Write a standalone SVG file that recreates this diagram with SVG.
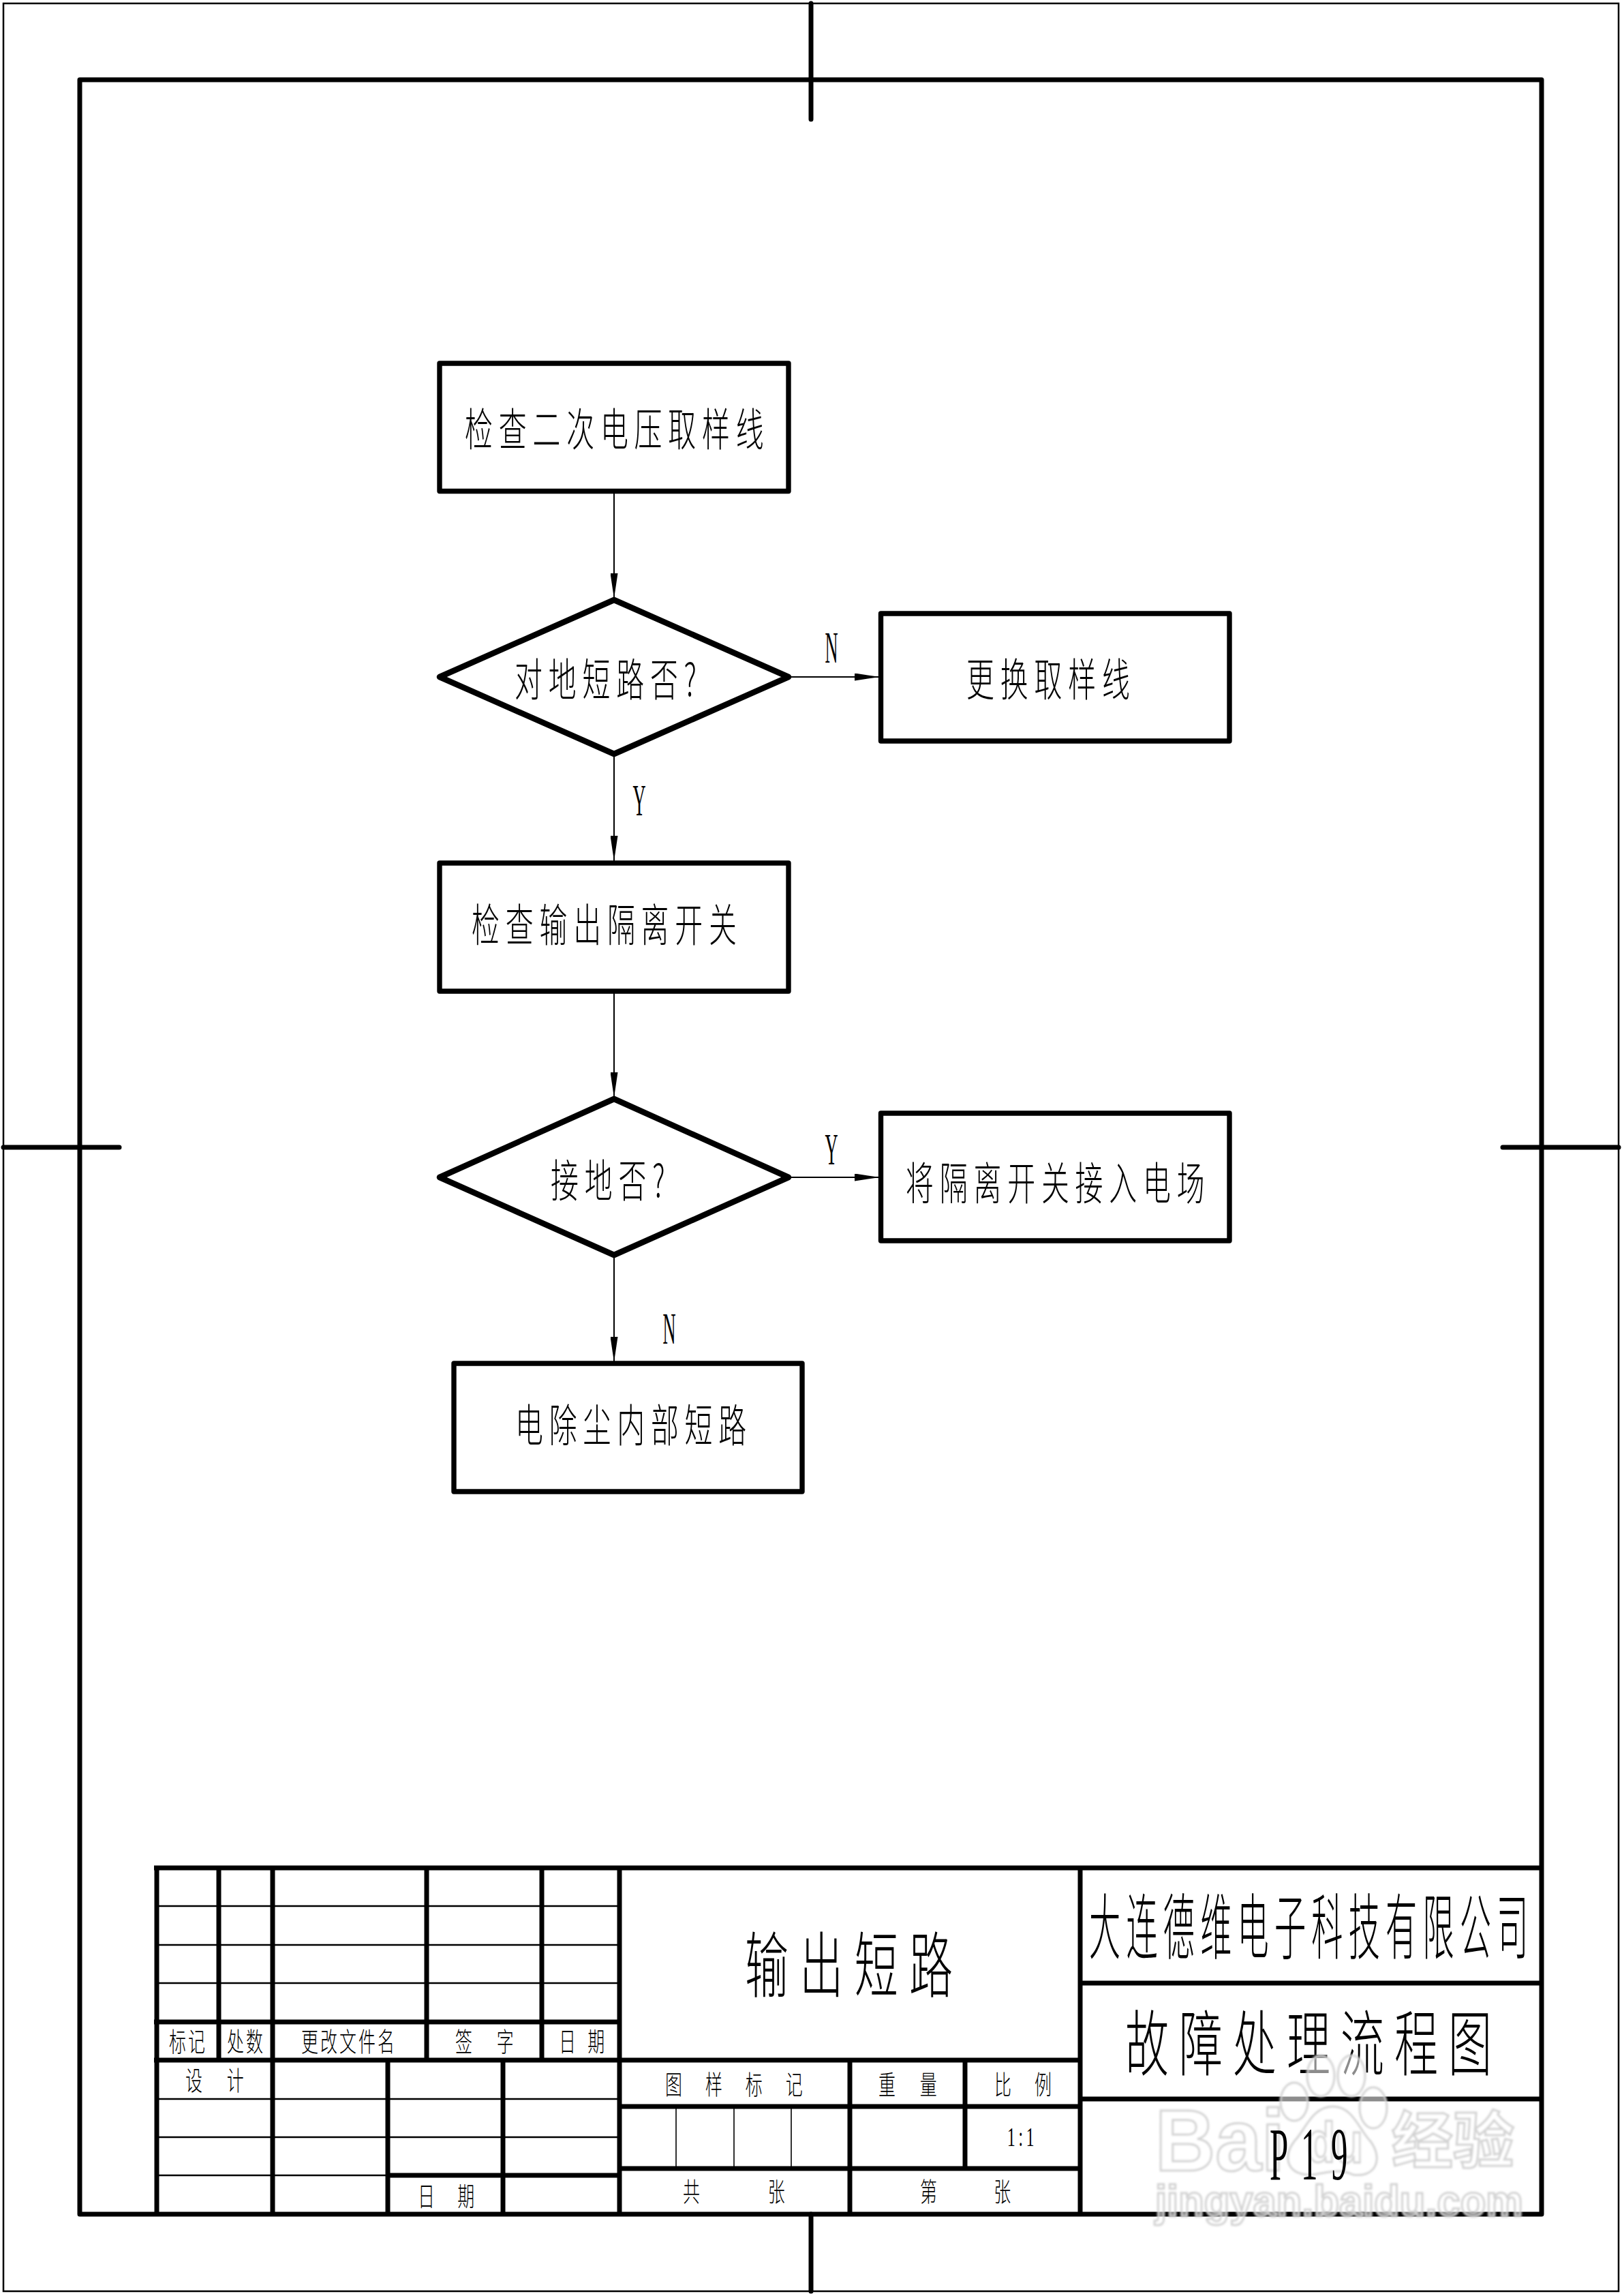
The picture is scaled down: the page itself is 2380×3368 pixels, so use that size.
<svg xmlns="http://www.w3.org/2000/svg" width="2380" height="3368" viewBox="0 0 2380 3368">
<style>
text{fill:#000;font-family:"Noto Sans CJK SC","Liberation Sans",sans-serif;font-weight:300}
.m{font-size:66px;letter-spacing:14.2px}
.s{font-size:39px;letter-spacing:4.75px}
.sp{font-size:39px}
.l{font-size:105px}
.lat{font-family:"Liberation Serif",serif;font-size:66px;text-anchor:middle}
.box{fill:#fff;stroke:#000;stroke-width:7.4;stroke-linejoin:round}
.dia{fill:#fff;stroke:#000;stroke-width:8.5;stroke-linejoin:round}
.thick{fill:none;stroke:#000;stroke-width:7;stroke-linecap:round}
.thin{fill:none;stroke:#000;stroke-width:2.4}
.hair{fill:none;stroke:#000;stroke-width:1.6}
.con{fill:none;stroke:#000;stroke-width:2;marker-end:url(#arr)}
.wm{fill:#fff;fill-opacity:.55;stroke:#d2d2d2;stroke-width:3}
.wmt{font-family:"Liberation Sans",sans-serif;font-weight:700}
</style>
<defs>
<marker id="arr" markerUnits="userSpaceOnUse" markerWidth="37" markerHeight="11" refX="37" refY="5.5" orient="auto"><path d="M0 0L37 5.5L0 11Z" fill="#000"/></marker>
<filter id="blur" x="-5%" y="-5%" width="110%" height="110%"><feGaussianBlur stdDeviation="1.8"/></filter>
</defs>
<rect width="2380" height="3368" fill="#fff"/>
<g id="frame">
<rect x="5" y="5" width="2370" height="3356" class="thin" style="stroke-width:2.5"/>
<rect x="117" y="117" width="2145" height="3131" class="thick" style="stroke-linejoin:round"/>
<path class="thick" d="M1190 5V175M1190 3248V3361M5 1683H175M2205 1683H2375"/>
</g>
<g id="connectors">
<path class="con" d="M901 720V878"/>
<path class="con" d="M901 1106V1263"/>
<path class="con" d="M901 1453V1610"/>
<path class="con" d="M901 1841V1998"/>
<path class="con" d="M1157 993H1291"/>
<path class="con" d="M1157 1727H1291"/>
</g>
<g id="n1"><rect class="box" x="645" y="533" width="512" height="187.500"/><text class="m" transform="translate(682,654) scale(.62,1)">检查二次电压取样线</text></g>
<g id="n2"><polygon class="dia" points="901,880 1157,993 901,1106 645,993"/><text class="m" transform="translate(755,1021) scale(.62,1)">对地短路否?</text></g>
<g id="n3"><rect class="box" x="1292.500" y="900" width="511.500" height="187"/><text class="m" transform="translate(1418,1021) scale(.62,1)">更换取样线</text></g>
<g id="n4"><rect class="box" x="645" y="1266" width="512" height="188"/><text class="m" transform="translate(692,1381) scale(.62,1)">检查输出隔离开关</text></g>
<g id="n5"><polygon class="dia" points="901,1612 1157,1727 901,1841 645,1727"/><text class="m" transform="translate(808,1756) scale(.62,1)">接地否?</text></g>
<g id="n6"><rect class="box" x="1292.500" y="1633" width="511.500" height="187"/><text class="m" transform="translate(1329,1760) scale(.62,1)">将隔离开关接入电场</text></g>
<g id="n7"><rect class="box" x="666" y="2000" width="511" height="188"/><text class="m" transform="translate(756,2115) scale(.62,1)">电除尘内部短路</text></g>
<g id="edge-labels">
<text class="lat" transform="translate(1220,972) scale(.4,1)">N</text>
<text class="lat" transform="translate(938,1196) scale(.4,1)">Y</text>
<text class="lat" transform="translate(1220,1708) scale(.4,1)">Y</text>
<text class="lat" transform="translate(982,1971) scale(.4,1)">N</text>
</g>
<g id="title-block">
<path class="thick" style="stroke-linecap:butt" d="M226 2740H2262M226 2966H909M226 3022H1585M569 3191H909M909 3090H1585M909 3181H1585M1585 2909H2262M1585 3079H2262"/>
<path class="thick" style="stroke-linecap:butt" d="M230 2740V3248M321 2740V3022M400 2740V3248M626 2740V3022M795 2740V3022M909 2740V3248M569 3022V3248M738 3022V3248M1247 3022V3248M1416 3022V3181M1585 2740V3248"/>
<path class="thin" d="M230 2796H909M230 2853H909M230 2909H909M230 3079H909M230 3135H909M230 3191H569"/>
<path class="hair" d="M992 3090V3181M1077 3090V3181M1161 3090V3181"/>
<text class="s" transform="translate(248,3009) scale(.64,1)">标记</text>
<text class="s" transform="translate(333,3009) scale(.64,1)">处数</text>
<text class="s" transform="translate(442,3009) scale(.64,1)">更改文件名</text>
<text class="sp" x="0 48 95" transform="translate(668,3009) scale(.64,1)">签 字</text>
<text class="sp" x="0 33 66" transform="translate(820,3009) scale(.64,1)">日 期</text>
<text class="sp" x="0 48 95" transform="translate(272,3066) scale(.64,1)">设 计</text>
<text class="sp" x="0 45 91" transform="translate(613,3236) scale(.64,1)">日 期</text>
<text class="sp" x="0 46 92 138 184 230 276" transform="translate(976,3072) scale(.64,1)">图 样 标 记</text>
<text class="sp" x="0 97 195" transform="translate(1002,3229) scale(.64,1)">共 张</text>
<text class="sp" x="0 48 95" transform="translate(1289,3072) scale(.64,1)">重 量</text>
<text class="sp" x="0 46 92" transform="translate(1459,3072) scale(.64,1)">比 例</text>
<text class="sp" x="0 85 169" transform="translate(1350,3229) scale(.64,1)">第 张</text>
<text style="font-family:'Liberation Serif',serif;font-size:39px;letter-spacing:8px" transform="translate(1478,3148) scale(.6,1)">1:1</text>
<text class="l" style="letter-spacing:26.7px" transform="translate(1093,2921) scale(.61,1)">输出短路</text>
<text class="l" style="letter-spacing:18.6px" transform="translate(1598,2865) scale(.44,1)">大连德维电子科技有限公司</text>
<text class="l" style="letter-spacing:24.5px" transform="translate(1651,3036) scale(.61,1)">故障处理流程图</text>
</g>
<g id="watermark" filter="url(#blur)">
<ellipse class="wm" cx="1899" cy="3083" rx="20" ry="28"/>
<ellipse class="wm" cx="1938" cy="3045" rx="20" ry="30"/>
<ellipse class="wm" cx="1983" cy="3045" rx="20" ry="30"/>
<ellipse class="wm" cx="2015" cy="3092" rx="20" ry="30"/>
<path class="wm" d="M1956 3090C1925 3090 1915 3125 1900 3140C1880 3165 1890 3192 1925 3190C1945 3188 1965 3180 1985 3190C2020 3195 2030 3165 2010 3140C1995 3125 1985 3090 1956 3090Z"/>
<text class="wm wmt" x="1695" y="3184" font-size="128" textLength="190" lengthAdjust="spacingAndGlyphs">Bai</text>
<text class="wm wmt" x="1918" y="3172" font-size="84" textLength="82" lengthAdjust="spacingAndGlyphs">du</text>
<text class="wm" style="font-family:'Noto Sans CJK SC',sans-serif;font-weight:700" x="2042" y="3172" font-size="90" textLength="180" lengthAdjust="spacingAndGlyphs">经验</text>
<text class="wm wmt" x="1695" y="3251" font-size="64" textLength="540" lengthAdjust="spacingAndGlyphs">jingyan.baidu.com</text>
</g>
<g id="page-no"><text style="font-family:'Liberation Serif',serif;font-size:109px" x="0 102 200" transform="translate(1863,3197) scale(.45,1)">P19</text></g>
</svg>
